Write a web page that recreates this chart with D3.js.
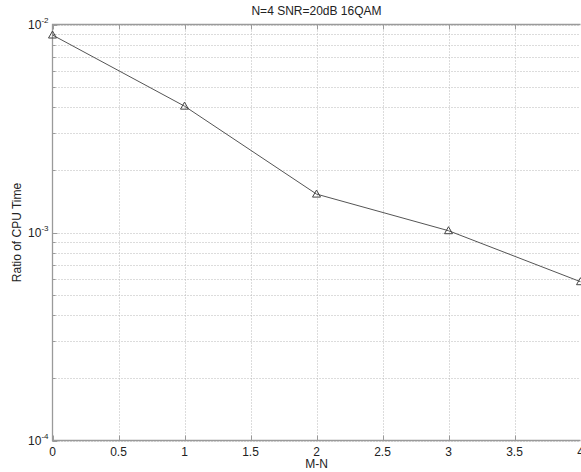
<!DOCTYPE html>
<html>
<head>
<meta charset="utf-8">
<script src="https://cdn.jsdelivr.net/npm/d3@7"></script>
<style>
  body { margin: 0; background: #fff; }
  svg text { font-family: "Liberation Sans", Arial, sans-serif; fill: #222; }
  .grid line { stroke: #b8b8b8; stroke-width: 1; stroke-dasharray: 1,2; }
</style>
</head>
<body>
<div id="vis"></div>
<script>
// chart values
var mn = [0, 1, 2, 3, 4];
var cpuRatio = [8.9e-3, 4.05e-3, 1.53e-3, 1.02e-3, 5.8e-4];
var xTicks = [0, 0.5, 1, 1.5, 2, 2.5, 3, 3.5, 4];
var yDecades = [1e-4, 1e-3, 1e-2];

// note: can't call it "top", that's window.top
var w = 581, h = 472,
    plotL = 52.5, plotT = 24.5, plotR = 580.5, plotB = 440.5;

var x = d3.scaleLinear().domain([0, 4]).range([plotL, plotR]),
    y = d3.scaleLog().domain([1e-4, 1e-2]).range([plotB, plotT]);

var svg = d3.select("#vis").append("svg")
    .attr("width", w)
    .attr("height", h);

// minor log ticks 2..9 in each decade
var yMinor = [];
for (var d = 1e-4; d < 1e-2; d *= 10) {
    for (var k = 2; k <= 9; k++) yMinor.push(d * k);
}
var yGridVals = yMinor.concat(yDecades);

var grid = svg.append("g").attr("class", "grid");
grid.selectAll(".hg")
    .data(yGridVals)
    .enter().append("line")
    .attr("x1", plotL).attr("x2", plotR)
    .attr("y1", function(d) { return Math.round(y(d)) + 0.5; })
    .attr("y2", function(d) { return Math.round(y(d)) + 0.5; });
grid.selectAll(".vg")
    .data(xTicks.slice(1))
    .enter().append("line")
    .attr("y1", plotT).attr("y2", plotB)
    .attr("x1", function(d) { return Math.round(x(d)) + 0.5; })
    .attr("x2", function(d) { return Math.round(x(d)) + 0.5; });

// axes box (left, top, bottom)
var axisCol = "#9a9a9a";
svg.append("path")
    .attr("d", "M" + plotR + "," + plotT + "H" + plotL + "V" + plotB + "H" + plotR)
    .attr("fill", "none")
    .attr("stroke", axisCol)
    .attr("stroke-width", 1.3);

// tick marks (inward)
svg.selectAll(".xt")
    .data(xTicks)
    .enter().append("path")
    .attr("d", function(d) {
        var px = Math.round(x(d)) + 0.5;
        return "M" + px + "," + plotB + "v-5M" + px + "," + plotT + "v5";
    })
    .attr("stroke", axisCol);
svg.selectAll(".yt")
    .data(yGridVals)
    .enter().append("path")
    .attr("d", function(d) {
        var py = Math.round(y(d)) + 0.5;
        var len = yDecades.indexOf(d) >= 0 ? 5 : 3;
        return "M" + plotL + "," + py + "h" + len;
    })
    .attr("stroke", axisCol);

// x tick labels
svg.selectAll(".xLabel")
    .data(xTicks)
    .enter().append("text")
    .attr("x", function(d) { return x(d); })
    .attr("y", plotB + 15)
    .attr("text-anchor", "middle")
    .attr("font-size", 12)
    .text(function(d) { return d; });

// y tick labels 10^n
var yl = svg.selectAll(".yLabel")
    .data(yDecades)
    .enter().append("text")
    .attr("x", plotL - 4)
    .attr("y", function(d) { return y(d) + 4; })
    .attr("text-anchor", "end")
    .attr("font-size", 12);
yl.append("tspan").text("10");
yl.append("tspan")
    .attr("dy", -6)
    .attr("font-size", 8)
    .text(function(d) { return Math.round(Math.log10(d)); });

// series line + triangle markers
var line = d3.line()
    .x(function(d, i) { return x(mn[i]); })
    .y(function(d) { return y(d); });

svg.append("path")
    .datum(cpuRatio)
    .attr("d", line)
    .attr("fill", "none")
    .attr("stroke", "#555")
    .attr("stroke-width", 1);

svg.selectAll(".pt")
    .data(cpuRatio)
    .enter().append("path")
    .attr("transform", function(d, i) { return "translate(" + x(mn[i]) + "," + y(d) + ")"; })
    .attr("d", "M0,-4L4,3L-4,3Z")
    .attr("fill", "none")
    .attr("stroke", "#444")
    .attr("stroke-width", 1);

// titles
svg.append("text")
    .attr("x", (plotL + plotR) / 2)
    .attr("y", 15)
    .attr("text-anchor", "middle")
    .attr("font-size", 12)
    .text("N=4 SNR=20dB 16QAM");

svg.append("text")
    .attr("x", (plotL + plotR) / 2)
    .attr("y", 468)
    .attr("text-anchor", "middle")
    .attr("font-size", 12)
    .text("M-N");

svg.append("text")
    .attr("transform", "translate(21," + (plotT + plotB) / 2 + ") rotate(-90)")
    .attr("text-anchor", "middle")
    .attr("font-size", 12)
    .text("Ratio of CPU Time");
</script>
</body>
</html>
